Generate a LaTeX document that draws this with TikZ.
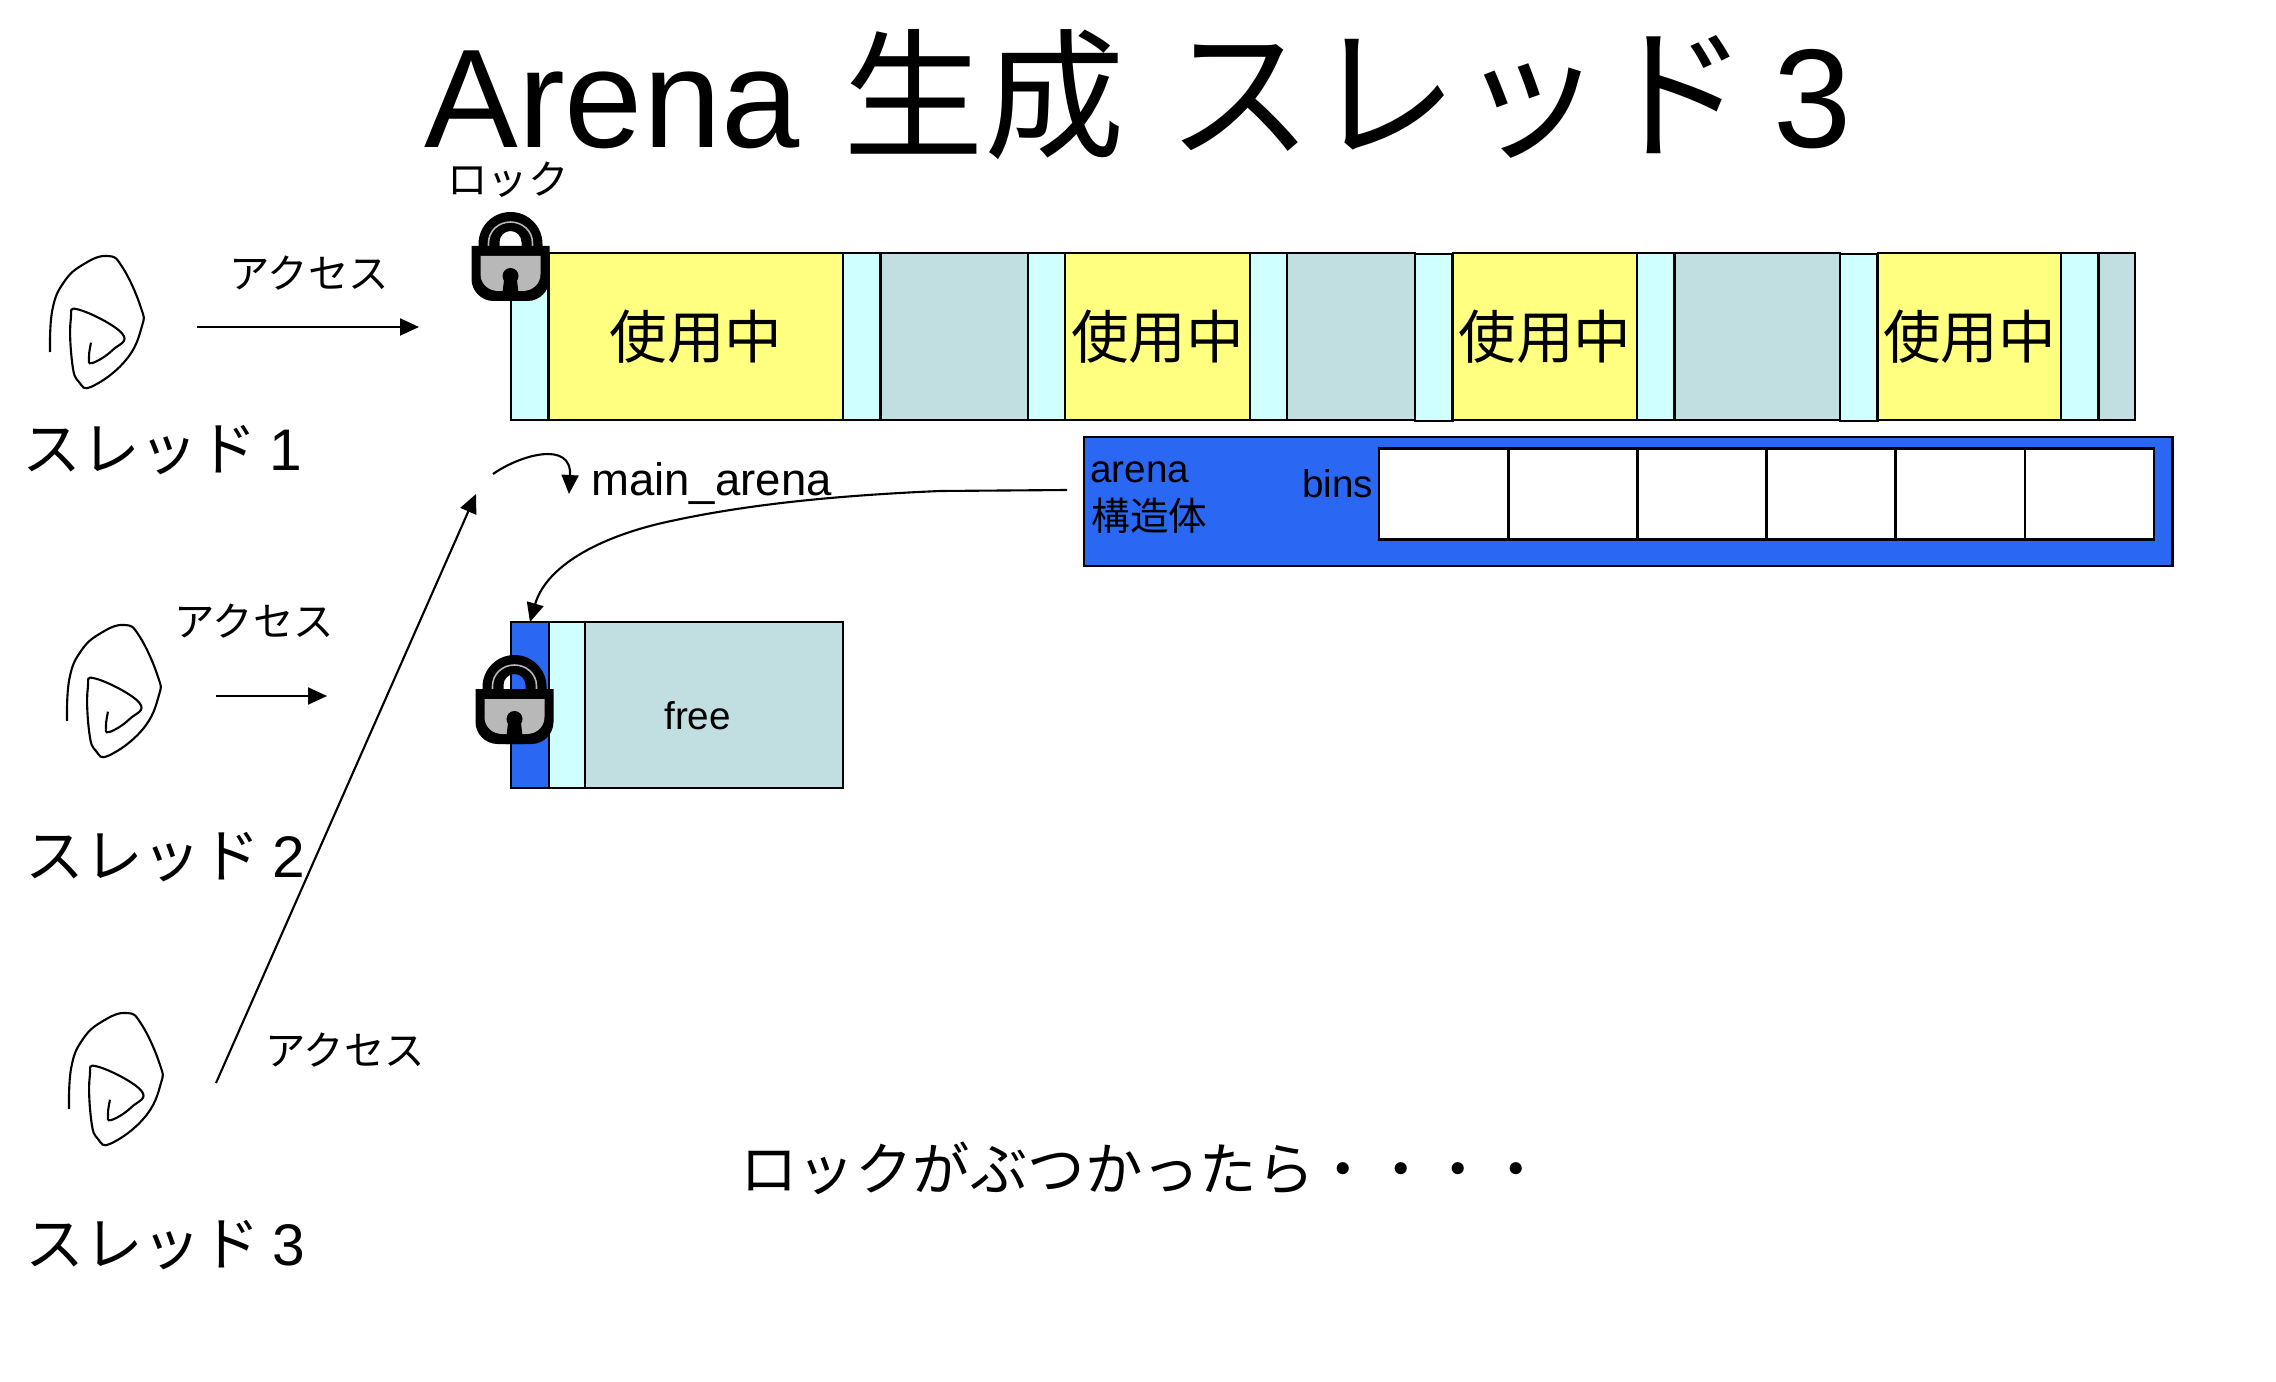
\documentclass[tikz,border=0pt]{standalone}
\usepackage{fontspec}
\setmainfont{Liberation Sans}
\newfontfamily\cjkfont{Noto Sans CJK JP}
\newcommand{\jp}[1]{{\cjkfont #1}}
\usetikzlibrary{arrows.meta,calc,positioning}

\definecolor{usedcol}{HTML}{FFFF80}
\definecolor{headcol}{HTML}{CFFFFF}
\definecolor{freecol}{HTML}{C1DFE0}
\definecolor{arenacol}{HTML}{2A68F4}
\definecolor{lockgray}{HTML}{B8B8B8}

\begin{document}
\begin{tikzpicture}[
  x=0.02cm, y=-0.02cm,
  cell/.style={draw=black, line width=1.5pt, inner sep=0pt, outer sep=0pt,
               anchor=west, minimum height=3.34cm},
  hdr/.style={cell, fill=headcol, minimum width=0.75cm},
  used/.style={cell, fill=usedcol, font=\fontsize{32.8}{36}\selectfont\cjkfont},
  freeblk/.style={cell, fill=freecol},
  bincell/.style={draw=black, line width=1.5pt, fill=white, inner sep=0pt, outer sep=0pt,
                  anchor=west, minimum width=2.584cm, minimum height=1.82cm},
  sig/.style={draw=black, line width=1.2pt, -{Stealth[length=0.38cm,width=0.34cm,inset=0pt]}},
  bigtxt/.style={font=\fontsize{33.4}{36}\selectfont, inner sep=0pt, anchor=west},
  smalltxt/.style={font=\fontsize{23}{26}\selectfont, inner sep=0pt},
  lbl/.style={font=\fontsize{22}{24}\selectfont, inner sep=0pt, align=left},
  padlock/.pic={
    \fill[black, even odd rule]
      (-32,36) -- (-32,32) .. controls (-32,14.3) and (-17.7,0) .. (0,0)
      .. controls (17.7,0) and (32,14.3) .. (32,32) -- (32,36) -- cycle
      (-11,36) -- (-11,30) .. controls (-11,24) and (-6,19) .. (0,19)
      .. controls (6,19) and (11,24) .. (11,30) -- (11,36) -- cycle;
    \draw[lockgray, line width=0.9pt] (-22,34) -- (-22,31) .. controls (-22,19) and (-12,10) .. (0,10)
      .. controls (12,10) and (22,19) .. (22,31) -- (22,34);
    \fill[black] (-39,34) -- (-39,67) .. controls (-39,79) and (-29,89) .. (-17,89) -- (17,89)
      .. controls (29,89) and (39,79) .. (39,67) -- (39,34) -- cycle;
    \fill[lockgray] (-30,44) -- (-30,62) .. controls (-30,72) and (-22,79) .. (-12,79) -- (12,79)
      .. controls (22,79) and (30,72) .. (30,62) -- (30,44) -- cycle;
    \fill[black] (0,64) circle (8) (-6,64) -- (6,64) -- (9,89) -- (-9,89) -- cycle;
  },
  threadmark/.pic={
    \draw[black, line width=1.2pt] plot[smooth, tension=0.75] coordinates {
      (0,0) (2.3,-41.7) (14,-70) (34,-88) (57.3,-96) (72.3,-85) (90.7,-45) (91.7,-25)
      (75.7,8.3) (42.3,34.3) (29,30) (22.3,11.7) (20.7,-31.7) (29,-42.3) (72.3,-18.3)
      (62.3,-1.7) (42.3,11) (39,5) (41,-9.3)};
  },
]
\useasboundingbox (0,0) rectangle (2276,1382);

% ---------- title ----------
\node[font=\fontsize{80}{88}\selectfont, inner sep=0pt, anchor=base west] (title) at (424,148)
  {Arena\hspace{3pt} \jp{生成}\hspace{2pt} {\fontsize{82.8}{88}\selectfont\jp{スレッド}}\hspace{14pt}3};

% ---------- threads ----------
\pic (threadA) at (50,352) {threadmark};
\pic (threadB) at (67,721) {threadmark};
\pic (threadC) at (69,1109) {threadmark};

\node[bigtxt] (labelA) at (22,450) {\jp{スレッド}\hspace{7pt}1};
\node[bigtxt] (labelB) at (25,857) {\jp{スレッド}\hspace{7pt}2};
\node[bigtxt] (labelC) at (25,1245) {\jp{スレッド}\hspace{7pt}3};

% ---------- access arrows ----------
\coordinate (accA0) at (197,327);
\coordinate (accA1) at (419,327);
\coordinate (accB0) at (216,696);
\coordinate (accB1) at (327,696);
\coordinate (accC0) at (216,1083);
\coordinate (accC1) at (476,494);
\draw[sig] (accA0) -- (accA1);
\draw[sig] (accB0) -- (accB1);
\draw[sig] (accC0) -- (accC1);
\node[smalltxt] (accAtxt) at (309,273) {\jp{アクセス}};
\node[smalltxt] (accBtxt) at (254,621) {\jp{アクセス}};
\node[smalltxt] (accCtxt) at (345,1050) {\jp{アクセス}};
\node[smalltxt] (locktxt) at (508,180) {\jp{ロック}};

% ---------- top heap ----------
\node[hdr]  (hA) at (511,336.5) {};
\node[used, minimum width=5.88cm] (uA) at (549,336.5) {使用中};
\node[hdr]  (hB) at (843,336.5) {};
\node[freeblk, minimum width=2.94cm] (fB) at (881,336.5) {};
\node[hdr]  (hC) at (1028,336.5) {};
\node[used, minimum width=3.70cm] (uC) at (1065,336.5) {使用中};
\node[hdr]  (hD) at (1250,336.5) {};
\node[freeblk, minimum width=2.56cm] (fD) at (1287,336.5) {};
\node[hdr]  (hE) at (1415,337.5) {};
\node[used, minimum width=3.68cm] (uE) at (1453,336.5) {使用中};
\node[hdr]  (hF) at (1637,336.5) {};
\node[freeblk, minimum width=3.30cm] (fF) at (1675,336.5) {};
\node[hdr]  (hG) at (1840,337.5) {};
\node[used, minimum width=3.66cm] (uG) at (1878,336.5) {使用中};
\node[hdr]  (hH) at (2061,336.5) {};
\node[freeblk, minimum width=0.72cm] (fH) at (2099,336.5) {};

% ---------- arena struct ----------
\node[draw=black, line width=1.5pt, fill=arenacol, inner sep=0pt, outer sep=0pt, anchor=north west,
      minimum width=21.78cm, minimum height=2.58cm] (arena) at (1084,437) {};
\node[bincell] (binA) at (1379,494) {};
\node[bincell] (binB) at (binA.east) {};
\node[bincell] (binC) at (binB.east) {};
\node[bincell] (binD) at (binC.east) {};
\node[bincell] (binE) at (binD.east) {};
\node[bincell] (binF) at (binE.east) {};
\node[lbl, anchor=base west] (arenatxt) at (1090,482) {arena};
\node[lbl, anchor=west, font=\fontsize{22}{24}\selectfont\cjkfont] (structtxt) at (1091,516) {構造体};
\node[lbl, anchor=base west] (binstxt) at (1302,497) {bins};

% ---------- new arena ----------
\node[cell, fill=arenacol, minimum width=0.76cm, minimum height=3.32cm] (newhead) at (511,705) {};
\node[cell, fill=headcol, minimum width=0.72cm, minimum height=3.32cm] (newhdr) at (549,705) {};
\node[freeblk, minimum width=5.16cm, minimum height=3.32cm] (newfree) at (585,705) {};
\node[lbl, anchor=base west] (freetxt) at (664,729) {free};

% ---------- main_arena pointers ----------
\node[font=\fontsize{25.9}{28}\selectfont, inner sep=0pt, anchor=base west] (maintxt) at (591,495) {main\_arena};
\coordinate (skip0) at (493,474);
\coordinate (skip1) at (569,494);
\draw[sig] (skip0) .. controls (520,455) and (572,440) .. (skip1);
\coordinate (ptr0) at (1067,490);
\draw[sig] (ptr0) -- (940,491) .. controls (800,497) and (720,510) .. (662,523)
  .. controls (590,540) and (545,570) .. (newhead.north);

% ---------- locks ----------
\pic (lockA) at (510.5,212) {padlock};
\pic (lockB) at (514.5,655) {padlock};

% ---------- caption ----------
\node[bigtxt, font=\fontsize{32.7}{36}\selectfont] (note) at (740,1168) {\jp{ロックがぶつかったら・・・・}};
\end{tikzpicture}
\end{document}
